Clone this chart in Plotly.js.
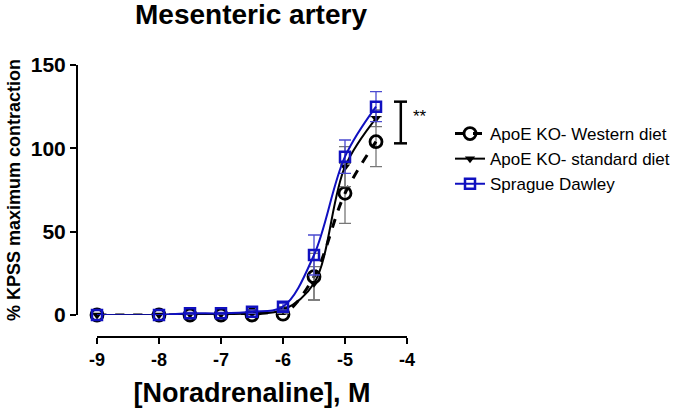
<!DOCTYPE html>
<html><head><meta charset="utf-8">
<script src="https://cdn.plot.ly/plotly-3.0.1.min.js"></script>
<style>body{margin:0;background:#fff}#chart{width:685px;height:411px}</style>
</head><body><div id="chart"></div>
<script>
const logConc = [-9, -8, -7.5, -7, -6.5, -6, -5.5, -5, -4.5];
const westernMean = [0, 0, 0, 0, 0, 0.5, 23, 73, 104];
const westernErr  = [0, 0, 0, 0, 0, 0.5, 14, 18, 15];
const standardMean = [0, 0, 0.5, 0.5, 1, 3, 19, 89, 118];
const standardErr  = [0, 0, 0.5, 0.5, 1, 2, 10, 12, 5];
const sdMean = [0, 0, 1, 1, 2, 5, 36, 95, 125];
const sdErr  = [0, 0, 0.5, 0.5, 1, 2, 12, 10, 9];
const seriesNames = ["ApoE KO- Western diet", "ApoE KO- standard diet", "Sprague Dawley"];
const bracketX = -4.1;
const bracketY = [103, 128];
const sigLabel = "**";
const xTicks = [-9, -8, -7, -6, -5, -4];
const yTicks = [0, 50, 100, 150];

const F = "Arial, 'Liberation Sans', sans-serif";

const traces = [
  {x: logConc, y: westernMean, name: seriesNames[0], mode: "lines+markers",
   line: {color: "#000", width: 3, dash: "dash", shape: "spline"},
   marker: {symbol: "circle-open", size: 12, color: "#000", line: {width: 2.8, color: "#000"}},
   error_y: {type: "data", array: westernErr, color: "#777", thickness: 1.3, width: 6},
   cliponaxis: false},
  {x: logConc, y: standardMean, name: seriesNames[1], mode: "lines+markers",
   line: {color: "#000", width: 2, shape: "spline"},
   marker: {symbol: "triangle-down", size: 9, color: "#000"},
   error_y: {type: "data", array: standardErr, color: "#777", thickness: 1.3, width: 6},
   cliponaxis: false},
  {x: logConc, y: sdMean, name: seriesNames[2], mode: "lines+markers",
   line: {color: "#1010c0", width: 2, shape: "spline"},
   marker: {symbol: "square-open", size: 10, color: "#1010c0", line: {width: 2.5, color: "#1010c0"}},
   error_y: {type: "data", array: sdErr, color: "#4a4ad0", thickness: 1.3, width: 6},
   cliponaxis: false}
];

const layout = {
  width: 685, height: 411, autosize: false,
  paper_bgcolor: "#fff", plot_bgcolor: "#fff",
  margin: {l: 77, r: 278, t: 65, b: 74, autoexpand: false},
  font: {family: F, color: "#000"},
  showlegend: true,
  title: {text: "<b>Mesenteric artery</b>", font: {size: 28, family: F}, x: 251/685, xanchor: "center", y: 1 - 14/411, yanchor: "middle"},
  xaxis: {
    domain: [20/330, 1], anchor: "free", position: 0,
    range: [-9, -4], tickvals: xTicks, ticktext: xTicks.map(v => "<b>" + v + "</b>"),
    showline: true, linecolor: "#000", linewidth: 2,
    ticks: "outside", ticklen: 6, tickwidth: 2, tickcolor: "#000",
    showgrid: false, zeroline: false,
    tickfont: {size: 18, family: F},
    title: {text: "<b>[Noradrenaline], M</b>", font: {size: 27, family: F}, standoff: 14}
  },
  yaxis: {
    domain: [22/272, 1], anchor: "free", position: 0,
    range: [0, 150], tickvals: yTicks, ticktext: yTicks.map(v => "<b>" + v + "</b>"),
    showline: true, linecolor: "#000", linewidth: 2,
    ticks: "outside", ticklen: 6, tickwidth: 2, tickcolor: "#000",
    showgrid: false, zeroline: false,
    tickfont: {size: 21, family: F},
    title: {text: "<b>% KPSS maximum contraction</b>", font: {size: 18, family: F}, standoff: 4}
  },
  legend: {x: (450 - 77) / 330, y: 1 - (116 - 65) / 272, xanchor: "left", yanchor: "top",
           font: {size: 17, family: F}, bgcolor: "rgba(0,0,0,0)", itemwidth: 30, tracegroupgap: 0},
  shapes: [
    {type: "line", xref: "x", yref: "y", x0: bracketX, x1: bracketX, y0: bracketY[0], y1: bracketY[1], line: {color: "#000", width: 2.5}},
    {type: "line", xref: "x", yref: "y", x0: bracketX - 0.11, x1: bracketX + 0.11, y0: bracketY[0], y1: bracketY[0], line: {color: "#000", width: 2.5}},
    {type: "line", xref: "x", yref: "y", x0: bracketX - 0.11, x1: bracketX + 0.11, y0: bracketY[1], y1: bracketY[1], line: {color: "#000", width: 2.5}}
  ],
  annotations: [
    {x: (411 - 77) / 330, y: 1 - (116 - 65) / 272, xref: "paper", yref: "paper", text: sigLabel, showarrow: false, xanchor: "left", yanchor: "middle", font: {size: 17, family: F}}
  ]
};

Plotly.newPlot("chart", traces, layout, {displayModeBar: false, staticPlot: true});
</script></body></html>
